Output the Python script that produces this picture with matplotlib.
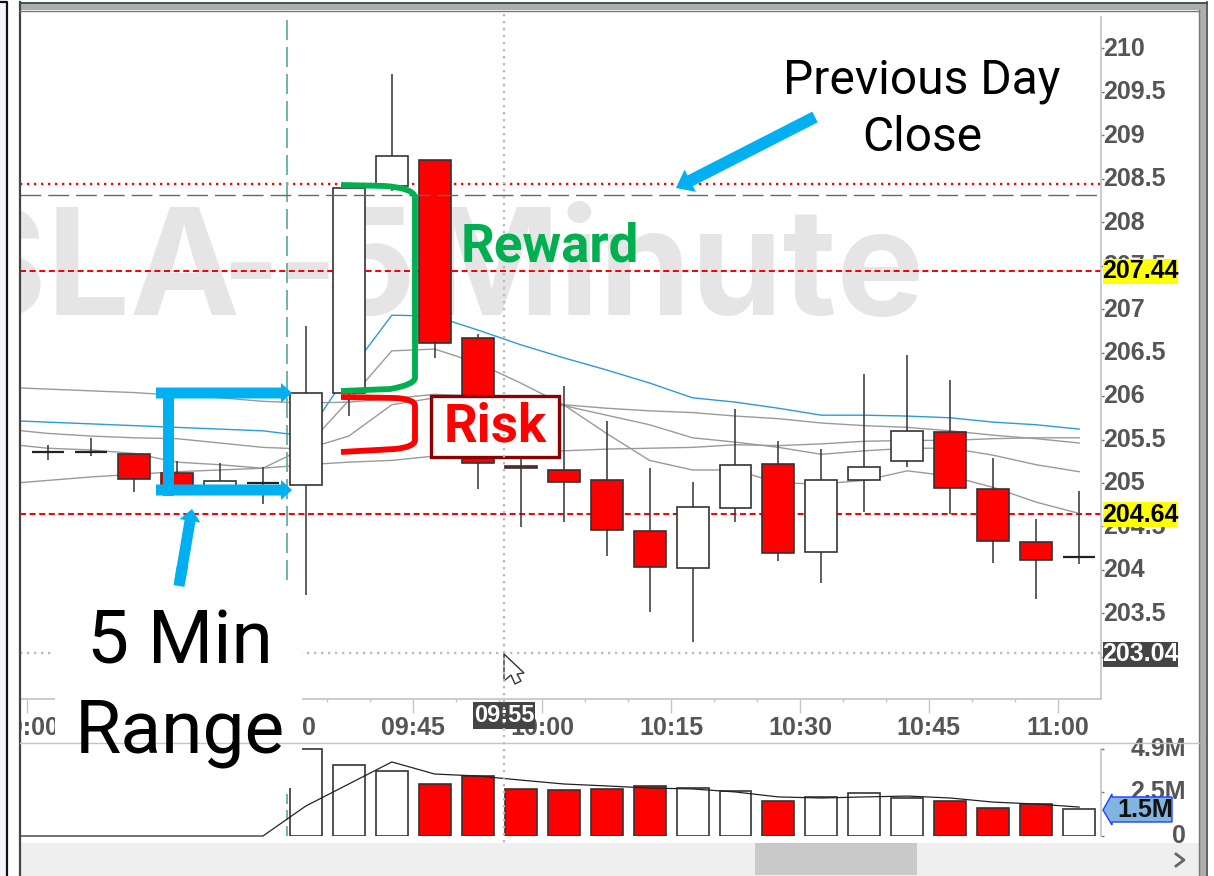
import numpy as np
import matplotlib
matplotlib.use("Agg")
import matplotlib.pyplot as plt
from matplotlib.patches import Rectangle, FancyArrow, Polygon, PathPatch
from matplotlib.path import Path
from matplotlib.transforms import ScaledTranslation

plt.rcParams['font.family'] = ['Roboto', 'DejaVu Sans']

# candles, one per 5 minutes, first one closes 09:05
bar_open = [205.36, 205.36, 205.33, 205.12, 204.95, 205.00, 204.98, 206.04, 208.42, 208.71, 206.67, 205.20,
            205.15, 205.04, 204.45, 204.02, 204.71, 205.22, 204.21, 205.04, 205.25, 205.59, 204.93, 204.32, 204.15]
bar_close = [205.36, 205.36, 205.05, 204.97, 205.02, 205.00, 206.04, 208.39, 208.76, 206.61, 205.23, 205.17,
             205.01, 204.46, 204.03, 204.72, 205.21, 204.20, 205.04, 205.18, 205.60, 204.94, 204.33, 204.12, 204.15]
bar_high = [205.44, 205.52, 205.33, 205.25, 205.23, 205.18, 206.81, 208.39, 209.70, 208.71, 206.71, 205.50,
            206.12, 205.71, 205.17, 205.01, 205.85, 205.48, 205.39, 206.25, 206.47, 206.19, 205.29, 204.59, 204.91]
bar_low = [205.26, 205.31, 204.90, 204.93, 204.92, 204.76, 203.71, 205.77, 208.36, 206.44, 204.93, 204.49,
           204.55, 204.16, 203.52, 203.17, 204.55, 204.10, 203.85, 204.67, 205.18, 204.64, 204.08, 203.67, 204.07]

# moving averages, sampled at the bar centres (one extra bar on the left)
ma_blue = [205.72, 205.70, 205.68, 205.66, 205.64, 205.62, 205.60, 205.54, 206.27, 206.93, 206.92, 206.76, 206.59,
           206.44, 206.30, 206.15, 205.98, 205.93, 205.86, 205.78, 205.78, 205.77, 205.75, 205.70, 205.67, 205.62]
ma_a = [206.10, 206.08, 206.06, 206.04, 206.01, 205.98, 205.94, 205.92, 205.93, 205.97, 206.02, 206.00, 205.95,
        205.90, 205.86, 205.83, 205.81, 205.77, 205.74, 205.69, 205.66, 205.64, 205.60, 205.55, 205.51, 205.46]
ma_b = [205.62, 205.57, 205.54, 205.52, 205.51, 205.46, 205.41, 205.39, 205.54, 205.90, 205.98, 205.95, 205.92,
        205.89, 205.78, 205.67, 205.52, 205.47, 205.41, 205.33, 205.37, 205.40, 205.40, 205.32, 205.21, 205.13]
ma_c = [205.45, 205.40, 205.38, 205.34, 205.24, 205.21, 205.17, 205.41, 205.95, 206.52, 206.54, 206.38, 206.15,
        205.90, 205.57, 205.26, 205.15, 205.15, 205.00, 204.99, 205.03, 205.14, 205.08, 204.95, 204.78, 204.65]
ma_d = [204.99, 205.03, 205.07, 205.10, 205.13, 205.15, 205.17, 205.21, 205.24, 205.26, 205.31, 205.33, 205.36,
        205.37, 205.39, 205.40, 205.41, 205.44, 205.43, 205.45, 205.48, 205.49, 205.49, 205.51, 205.52, 205.52]

# volume in millions, regular session only
volume = [4.90, 4.00, 3.68, 2.93, 3.40, 2.65, 2.59, 2.65, 2.82, 2.70, 2.53, 1.97, 2.20, 2.42, 2.14, 1.97, 1.58, 1.80, 1.52]
vol_avg = [0, 0, 0, 0, 0, 0, 0, 1.69, 2.93, 4.17, 3.49, 3.38, 3.15, 2.93, 2.82, 2.70, 2.65, 2.48, 2.20, 2.14, 2.20,
           2.25, 2.14, 1.91, 1.80, 1.63]

price_ticks = [203, 203.5, 204, 204.5, 205, 205.5, 206, 206.5, 207, 207.5, 208, 208.5, 209, 209.5, 210]
price_tick_labels = ['203', '203.5', '204', '204.5', '205', '205.5', '206', '206.5', '207', '207.5', '208', '208.5',
                     '209', '209.5', '210']
time_ticks = [540, 555, 570, 585, 600, 615, 630, 645, 660]
time_labels = ['09:00', '09:15', '09:30', '09:45', '10:00', '10:15', '10:30', '10:45', '11:00']
vol_ticks = [0, 2.5, 4.9]
vol_tick_labels = ['0', '2.5M', '4.9M']

resistance = 207.44
support = 204.64
prev_close = 208.31
red_dotted = 208.44
cursor_price = 203.04
open_time = 570.3

W, H = 1214, 876
GREY_TXT = '#555555'
AX_GREY = '#c4c4c4'
AXIS_FONT = ['Liberation Sans', 'DejaVu Sans']
AXIS_SIZE = 18


def px_axes(left, top, right, bottom):
    return [left / W, 1 - bottom / H, (right - left) / W, (bottom - top) / H]


fig = plt.figure(figsize=(W / 100, H / 100), dpi=100, facecolor='white')
ax = fig.add_axes(px_axes(20, 14, 1101, 699))
vax = fig.add_axes(px_axes(20, 743, 1101, 836))
over = fig.add_axes([0, 0, 1, 1], zorder=10)
over.set_xlim(0, W)
over.set_ylim(H, 0)
over.axis('off')
over.patch.set_alpha(0)

bar_x = 542.5 + 5 * np.arange(len(bar_open))
ma_x = 537.5 + 5 * np.arange(len(ma_blue))
xlim = (539.23, 665.04)
bar_w = 3.72

o = np.array(bar_open)
c = np.array(bar_close)
colors = ['white' if b >= a else 'red' for a, b in zip(o, c)]

# price panel, watermark pieces placed one by one to keep the spacing
ax.set_xlim(*xlim)
ax.set_ylim(202.516, 210.394)
for wm_right, wm_txt, wm_font in [(240, 'TSLA', 'Inter'), (337, '--', 'Roboto'), (416, '5', 'Inter'), (925, 'Minute', 'Inter')]:
    ax.text(wm_right, 315, wm_txt, transform=over.transData, ha='right', va='baseline', fontsize=106,
            fontweight='bold', family=[wm_font, 'DejaVu Sans'], color='#e5e5e5', zorder=1, clip_on=True)

ax.axhline(red_dotted, color='red', lw=1.68, ls=(0, (1, 2)), zorder=2, dash_capstyle='butt')
ax.axhline(resistance, color='red', lw=1.44, ls=(0, (3, 1.8)), zorder=2, dash_capstyle='butt')
ax.axhline(support, color='red', lw=1.44, ls=(0, (3, 1.8)), zorder=2, dash_capstyle='butt')
ax.axhline(cursor_price, color='#bbbbbb', lw=1.68, ls=(0, (1, 2)), zorder=2, dash_capstyle='butt')
ax.axvline(open_time, color='#6fb5b0', lw=1.44, ls=(0, (10, 3.5)), ymin=(699 - 580) / 685, ymax=(699 - 15) / 685, zorder=2,
           dash_capstyle='butt')

ax.plot(ma_x, ma_blue, color='#2b9bd6', lw=1.0, zorder=3)
for ma in (ma_a, ma_b, ma_c, ma_d):
    ax.plot(ma_x, ma, color='#9a9a9a', lw=1.0, zorder=3)

ax.vlines(bar_x, bar_low, bar_high, color='#333333', lw=1.1, zorder=4)
is_doji = o == c
ax.bar(bar_x[~is_doji], (c - o)[~is_doji], bottom=o[~is_doji], width=bar_w,
       color=np.array(colors)[~is_doji], edgecolor='#333333', linewidth=1.2, zorder=5)
ax.hlines(o[is_doji], bar_x[is_doji] - bar_w / 2, bar_x[is_doji] + bar_w / 2, color='#222222', lw=1.6, zorder=5)
ax.axhline(prev_close, color='#666666', lw=1.0, ls=(0, (15, 5)), zorder=6, dash_capstyle='butt')

ax.yaxis.tick_right()
ax.set_yticks(price_ticks, price_tick_labels, fontsize=AXIS_SIZE, fontweight='bold', color=GREY_TXT, family=AXIS_FONT)
ax.set_xticks(time_ticks, time_labels, fontsize=AXIS_SIZE, fontweight='bold', color=GREY_TXT, family=AXIS_FONT)
ax.set_xticks(np.arange(540, 665, 5), minor=True)
ax.tick_params(axis='y', length=2, width=1, color='#777777', pad=-0.5)
ax.tick_params(axis='x', which='major', length=10, width=1, color=AX_GREY, pad=2.5)
ax.tick_params(axis='x', which='minor', length=2.5, width=1, color=AX_GREY)
for s in ('top', 'left'):
    ax.spines[s].set_visible(False)
for s in ('bottom', 'right'):
    ax.spines[s].set_color(AX_GREY)
    ax.spines[s].set_linewidth(1.2)
ax.spines['right'].set_bounds(202.516, 210.36)

# volume panel
vax.set_xlim(*xlim)
vax.set_ylim(0, 5.238)
vax.bar(bar_x[6:], volume, width=bar_w, color=colors[6:], edgecolor='#333333', linewidth=1.2, zorder=3)
vax.plot(ma_x, vol_avg, color='#222222', lw=0.9, zorder=4, clip_on=False)
vax.axvline(open_time, color='#6fb5b0', lw=1.44, ls=(0, (5, 3)), zorder=2)
vax.yaxis.tick_right()
vax.set_yticks(vol_ticks, vol_tick_labels, fontsize=AXIS_SIZE, fontweight='bold', color=GREY_TXT, family=AXIS_FONT, ha='right')
vax.tick_params(axis='y', length=2, width=1, color='#777777', pad=59)
vax.set_xticks([])
for s in ('top', 'left', 'bottom'):
    vax.spines[s].set_visible(False)
vax.spines['right'].set_bounds(0, 4.9)
vax.spines['right'].set_color(AX_GREY)
vax.spines['right'].set_linewidth(1.2)

# nudge the axis labels up a little
nudge = ScaledTranslation(0, 1.5 / 72, fig.dpi_scale_trans)
for lbl in list(ax.get_yticklabels()) + list(vax.get_yticklabels()):
    lbl.set_transform(lbl.get_transform() + nudge)


def rect(x0, y0, x1, y1, **kw):
    kw.setdefault('linewidth', 0)
    over.add_patch(Rectangle((x0, y0), x1 - x0, y1 - y0, **kw))


# chart frame and scrollbar
rect(0, 0, 7, H, facecolor='#f3f7fc')
rect(8, 3, 19, H, facecolor='white')
over.plot([0, 7, 7], [2, 2, H], color='#111111', lw=1.6)
over.plot([19.5, 19.5], [2, H], color='#444444', lw=1.6)
rect(20, 3, 1206, 10, facecolor='#adadad')
over.plot([20, 1207], [2.5, 2.5], color='#2f4f3f', lw=1.3)
over.plot([20, 1199], [10.5, 10.5], color='#777777', lw=1.0)
rect(1199, 3, 1206, H, facecolor='#adadad')
over.plot([1199, 1199], [10, H], color='#777777', lw=1.0)
over.plot([1206.5, 1206.5], [2, H], color='#444444', lw=1.2)
over.plot([20, 1199], [743, 743], color=AX_GREY, lw=1.0)
rect(20, 843, 1199, 875, facecolor='#efefef')
rect(755, 843, 917, 875, facecolor='#c9c9c9')
over.plot([20, 1199], [875.5, 875.5], color='#aaaaaa', lw=1.0)
over.plot([1176, 1184, 1176], [854, 860, 866], color='#666666', lw=2.0)

# crosshair and cursor
over.plot([504, 504], [14, 843], color='#bbbbbb', lw=1.68, ls=(0, (1, 2)), dash_capstyle='butt')
rect(473, 702, 535, 729, facecolor='#444444')
over.text(504, 715.5, '09:55', ha='center', va='center', fontsize=17, fontweight='bold', color='white', family=AXIS_FONT)
over.add_patch(Polygon([(504, 654), (524, 673), (517, 674), (521, 681), (515, 684), (511, 675), (504, 681)],
                       closed=True, facecolor='white', edgecolor='#333333', lw=1.0))

# price flags on the axis
for price_y, txt, bg, fg in [(271, '207.44', '#ffff00', 'black'), (514.5, '204.64', '#ffff00', 'black'),
                             (654, '203.04', '#444444', 'white')]:
    rect(1103, price_y - 12.5, 1178, price_y + 12.5, facecolor=bg)
    over.text(1140.5, price_y, txt, ha='center', va='center', fontsize=AXIS_SIZE, fontweight='bold', color=fg, family=AXIS_FONT)

over.add_patch(Polygon([(1103, 810), (1112, 794), (1112, 797), (1172, 797), (1172, 822), (1112, 822), (1112, 825)],
                       closed=True, facecolor='#7fb5e0', edgecolor='#2040ff', lw=1.0))
over.text(1145, 810, '1.5M', ha='center', va='center', fontsize=AXIS_SIZE, fontweight='bold', color='#111111', family=AXIS_FONT)

# hand drawn annotations
SKY = '#00b0f0'
rect(163, 388, 174, 496, facecolor=SKY)
over.add_patch(FancyArrow(156, 393, 136, 0, width=11, head_width=20, head_length=11, length_includes_head=True,
                          facecolor=SKY, linewidth=0))
over.add_patch(FancyArrow(156, 490, 136, 0, width=11, head_width=20, head_length=11, length_includes_head=True,
                          facecolor=SKY, linewidth=0))
over.add_patch(FancyArrow(179, 586, 13, -77, width=11, head_width=21, head_length=12, length_includes_head=True,
                          facecolor=SKY, linewidth=0))
over.add_patch(FancyArrow(815, 117, -139, 71, width=12, head_width=25, head_length=16, length_includes_head=True,
                          facecolor=SKY, linewidth=0))

green_path = Path([(341, 185), (385, 186), (413, 188), (415, 197), (415, 378), (414, 385), (390, 389), (341, 391)],
                  [Path.MOVETO, Path.LINETO, Path.CURVE3, Path.CURVE3, Path.LINETO, Path.CURVE3, Path.CURVE3, Path.LINETO])
red_path = Path([(341, 397), (395, 398), (415, 399), (415, 406), (415, 440), (415, 447), (395, 449), (341, 452)],
                [Path.MOVETO, Path.LINETO, Path.CURVE3, Path.CURVE3, Path.LINETO, Path.CURVE3, Path.CURVE3, Path.LINETO])
over.add_patch(PathPatch(green_path, fill=False, edgecolor='#00b050', lw=4.2, capstyle='butt'))
over.add_patch(PathPatch(red_path, fill=False, edgecolor='#ff0000', lw=4.2, capstyle='butt'))

over.text(550, 261, 'Reward', ha='center', va='baseline', fontsize=38, fontweight='bold', color='#00b050')
rect(430.5, 395.5, 558.5, 456.5, facecolor='white', edgecolor='#8b0000', linewidth=2.4)
over.text(495, 441, 'Risk', ha='center', va='baseline', fontsize=38, fontweight='bold', color='#ff0000')

over.text(922, 93, 'Previous Day', ha='center', va='baseline', fontsize=34.5, color='black')
over.text(922, 151, 'Close', ha='center', va='baseline', fontsize=34.5, color='black')

rect(55, 580, 302, 788, facecolor='white')
over.add_patch(FancyArrow(179, 586, 3.4, -20, width=11, head_width=11, head_length=0.1, length_includes_head=True,
                          facecolor=SKY, linewidth=0))
over.text(180, 664, '5 Min', ha='center', va='baseline', fontsize=54, color='black')
over.text(180, 752, 'Range', ha='center', va='baseline', fontsize=54, color='black')

fig.savefig('out.png', dpi=100)
